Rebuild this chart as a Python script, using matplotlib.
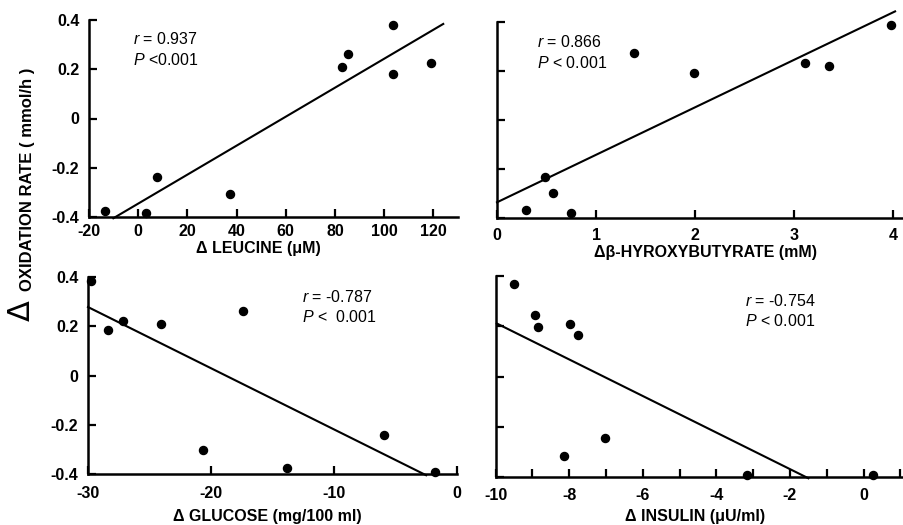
import matplotlib
matplotlib.use("Agg")
import matplotlib.pyplot as plt
from matplotlib.ticker import FixedLocator

plt.rcParams['font.family'] = ['Liberation Sans', 'DejaVu Sans']
plt.rcParams['axes.unicode_minus'] = False
plt.rcParams['mathtext.fontset'] = 'custom'
plt.rcParams['mathtext.it'] = 'Liberation Sans:italic'
plt.rcParams['mathtext.rm'] = 'Liberation Sans'

# ---------------- data ----------------
leu_x = [-13.5, 3.1, 7.7, 37.4, 82.8, 85.4, 103.5, 103.5, 119.2]
leu_y = [-0.374, -0.384, -0.238, -0.307, 0.21, 0.263, 0.38, 0.18, 0.224]
leu_fit_x = [-10.1, 124.0]
leu_fit_y = [-0.405, 0.384]

hb_x = [0.29, 0.48, 0.57, 0.75, 1.38, 1.99, 3.11, 3.35, 3.98]
hb_y = [-0.367, -0.234, -0.297, -0.380, 0.271, 0.189, 0.233, 0.220, 0.388]
hb_fit_x = [0.0, 4.02]
hb_fit_y = [-0.336, 0.442]

glu_x = [-29.73, -28.38, -27.19, -24.03, -17.38, -20.62, -13.84, -5.97, -1.76]
glu_y = [0.382, 0.184, 0.220, 0.208, 0.261, -0.304, -0.377, -0.242, -0.393]
glu_fit_x = [-30.0, -2.51]
glu_fit_y = [0.278, -0.405]

ins_x = [-9.51, -8.93, -8.86, -7.98, -7.76, -7.02, -8.13, -3.17, 0.26]
ins_y = [0.367, 0.244, 0.197, 0.208, 0.167, -0.243, -0.316, -0.393, -0.393]
ins_fit_x = [-9.97, -1.50]
ins_fit_y = [0.211, -0.405]

y_ticks = [-0.4, -0.2, 0, 0.2, 0.4]
y_ticklabels = ['-0.4', '-0.2', '0', '0.2', '0.4']

leu_ticks = [-20, 0, 20, 40, 60, 80, 100, 120]
hb_ticks = [0, 1, 2, 3, 4]
glu_ticks = [-30, -20, -10, 0]
ins_ticks = [-10, -8, -6, -4, -2, 0]
ins_minor = [-9, -7, -5, -3, -1, 1]

stats = [("0.937", "<0.001"), ("0.866", "< 0.001"), ("-0.787", "<  0.001"), ("-0.754", "< 0.001")]
xlabels = ["Δ LEUCINE (μM)", "Δβ-HYROXYBUTYRATE (mM)", "Δ GLUCOSE (mg/100 ml)", "Δ INSULIN (μU/ml)"]

W, H = 904, 525
fig = plt.figure(figsize=(W / 100, H / 100), dpi=100)


def rect(l, r, t, b):
    return [l / W, 1 - b / H, (r - l) / W, (b - t) / H]


def style(ax, xlim, xticks, show_ylabels, xpad):
    ax.set_xlim(*xlim)
    ax.set_ylim(-0.4, 0.4)
    for s in ['top', 'right']:
        ax.spines[s].set_visible(False)
    for s in ['left', 'bottom']:
        ax.spines[s].set_linewidth(1.8)
    ax.set_yticks(y_ticks)
    if show_ylabels:
        ax.set_yticklabels(y_ticklabels)
    else:
        ax.set_yticklabels([])
    ax.set_xticks(xticks)
    ax.set_xticklabels([str(t) for t in xticks])
    ax.tick_params(axis='both', which='both', direction='in', length=6, width=1.6,
                   labelsize=11.5)
    ax.tick_params(axis='x', pad=xpad)
    ax.tick_params(axis='y', pad=7)
    for lab in ax.get_xticklabels() + ax.get_yticklabels():
        lab.set_fontweight('bold')


def draw(ax, x, y, fx, fy):
    ax.plot(fx, fy, color='black', lw=1.5, clip_on=False, zorder=3)
    ax.plot(x, y, 'o', color='black', ms=5.8, clip_on=False, zorder=4)


ax1 = fig.add_axes(rect(89, 458, 20, 217))
draw(ax1, leu_x, leu_y, leu_fit_x, leu_fit_y)
style(ax1, (-20, 130), leu_ticks, True, 5)

ax2 = fig.add_axes(rect(497, 903, 21.7, 218))
draw(ax2, hb_x, hb_y, hb_fit_x, hb_fit_y)
style(ax2, (0, 4.1), hb_ticks, False, 7)

ax3 = fig.add_axes(rect(88, 457, 277, 474))
draw(ax3, glu_x, glu_y, glu_fit_x, glu_fit_y)
style(ax3, (-30, 0), glu_ticks, True, 9)

ax4 = fig.add_axes(rect(495.7, 904, 276, 477))
draw(ax4, ins_x, ins_y, ins_fit_x, ins_fit_y)
style(ax4, (-10, 1.1), ins_ticks, False, 8)
ax4.xaxis.set_minor_locator(FixedLocator(ins_minor))
ax4.tick_params(axis='x', which='minor', direction='in', length=6, width=1.6)

# stats annotations (pixel positions)
stat_pos = [(133, 38.5, 60), (537, 42, 63), (302, 297.5, 317), (745, 301, 321)]
for (rv, pv), (px, ry, py) in zip(stats, stat_pos):
    fig.text(px / W, 1 - ry / H, r"$\mathit{r}$ = " + rv, fontsize=11.5, va='center', ha='left')
    fig.text(px / W, 1 - py / H, r"$\mathit{P}$ " + pv, fontsize=11.5, va='center', ha='left')

# x labels
xl_pos = [(258, 248), (706, 252), (267, 516), (695, 516)]
for txt, (px, py) in zip(xlabels, xl_pos):
    fig.text(px / W, 1 - py / H, txt, fontsize=11.5, fontweight='bold', ha='center', va='center')

# y label
fig.text(21 / W, 1 - 311 / H, "Δ", fontsize=22, rotation=90, ha='center', va='center',
         family=['DejaVu Sans'])
fig.text(27.5 / W, 1 - 291 / H, "OXIDATION RATE ( mmol/h )", fontsize=12, fontweight='bold',
         rotation=90, ha='center', va='bottom')

fig.savefig("out.png", dpi=100)
